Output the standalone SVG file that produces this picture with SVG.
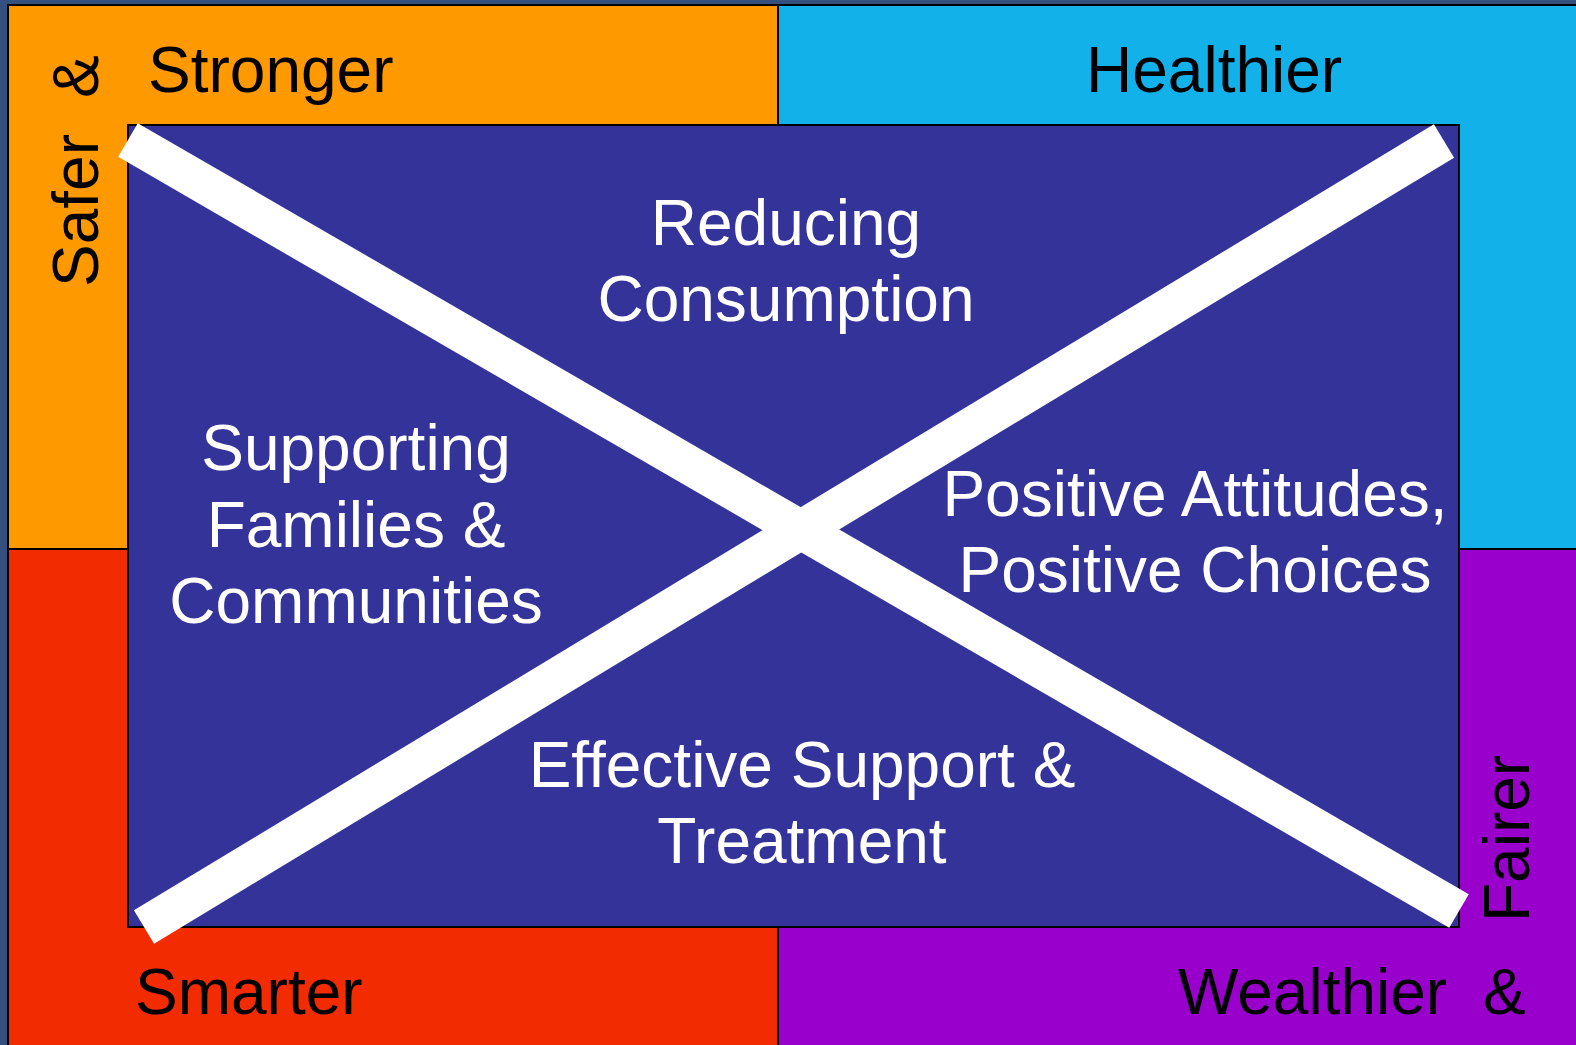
<svg xmlns="http://www.w3.org/2000/svg" width="1576" height="1045" viewBox="0 0 1576 1045">
<style>
.q{stroke:#000;stroke-width:2}
.lab{font-family:"Liberation Sans",Arial,sans-serif;font-size:64px;fill:#000}
.wt{font-family:"Liberation Sans",Arial,sans-serif;font-size:64px;fill:#fff;text-anchor:middle}
.bar{stroke:#fff;stroke-width:39;stroke-linecap:butt}
</style>
<rect x="0" y="0" width="1576" height="1045" fill="#34507f"/>
<g id="quadrants">
<rect id="q-safer" class="q" x="8" y="5" width="770" height="544" fill="#FF9900"/>
<rect id="q-healthier" class="q" x="778" y="5" width="802" height="544" fill="#13B1EA"/>
<rect id="q-smarter" class="q" x="8" y="549" width="770" height="500" fill="#F22C00"/>
<rect id="q-wealthier" class="q" x="778" y="549" width="802" height="500" fill="#9900CC"/>
</g>
<g id="outcome-labels">
<text class="lab" x="148" y="92">Stronger</text>
<text class="lab" x="1086" y="92">Healthier</text>
<text class="lab" x="135" y="1014">Smarter</text>
<text class="lab" x="1178" y="1014">Wealthier</text>
<text class="lab" x="1483" y="1014">&amp;</text>
<text class="lab" transform="translate(98,287) rotate(-90)">Safer</text>
<text class="lab" transform="translate(98,98) rotate(-90)">&amp;</text>
<text class="lab" transform="translate(1529,922) rotate(-90)">Fairer</text>
</g>
<g id="saltire">
<rect id="flag" x="128" y="125" width="1331" height="802" fill="#333399" stroke="#000" stroke-width="2"/>
</g>
<g id="connectors">
<line class="bar" x1="128" y1="140" x2="1459" y2="911"/>
<line class="bar" x1="1444" y1="141" x2="144" y2="927"/>
</g>
<g id="node-reducing">
<text class="wt" x="786" y="245">Reducing</text>
<text class="wt" x="786" y="321">Consumption</text>
</g>
<g id="node-supporting">
<text class="wt" x="356" y="470">Supporting</text>
<text class="wt" x="356" y="547">Families &amp;</text>
<text class="wt" x="356" y="623">Communities</text>
</g>
<g id="node-positive">
<text class="wt" x="1195" y="516">Positive Attitudes,</text>
<text class="wt" x="1195" y="592">Positive Choices</text>
</g>
<g id="node-effective">
<text class="wt" x="802" y="787">Effective Support &amp;</text>
<text class="wt" x="802" y="863">Treatment</text>
</g>
</svg>
